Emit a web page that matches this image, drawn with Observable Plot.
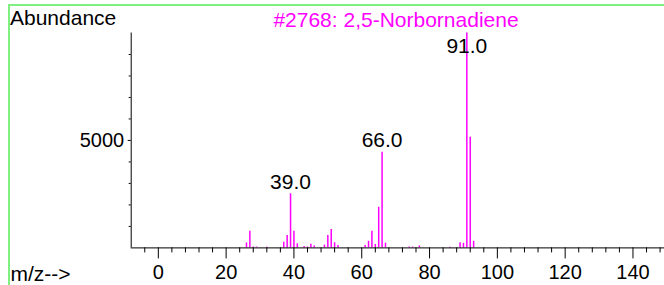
<!DOCTYPE html>
<html>
<head>
<meta charset="utf-8">
<script src="https://cdn.jsdelivr.net/npm/d3@7"></script>
<script src="https://cdn.jsdelivr.net/npm/@observablehq/plot@0.6"></script>
<style>
  html, body { margin: 0; padding: 0; background: #fff; }
  #chart { width: 664px; height: 285px; position: relative; overflow: hidden; }
  svg { display: block; }
</style>
</head>
<body>
<div id="chart"></div>
<script>
// m/z values and their abundances
const mz = [26, 27, 28, 29, 32, 37, 38, 39, 40, 41, 43, 44, 45, 46, 49, 50, 51, 52, 53,
            61, 62, 63, 64, 65, 66, 67, 74, 75, 77, 86, 89, 90, 91, 92, 93];
const abundance = [230, 770, 40, 40, 30, 260, 580, 2520, 770, 190, 60, 40, 170, 90, 130, 580, 860, 240, 110,
                   115, 310, 780, 160, 1890, 4450, 220, 40, 40, 90, 30, 235, 210, 10000, 5150, 310];
const labeledPeaks = [39, 66, 91];
const xTickLabels = [0, 20, 40, 60, 80, 100, 120, 140];
const xMinorTicks = [-4, 4, 8, 12, 16, 24, 28, 32, 36, 44, 48, 52, 56, 64, 68, 72, 76, 84, 88, 92, 96,
                     104, 108, 112, 116, 124, 128, 132, 136, 144, 148];
const yMinorTicks = [1000, 2000, 3000, 4000, 6000, 7000, 8000, 9000];
const yLabelTicks = [5000];
const titleText = "#2768: 2,5-Norbornadiene";
const yAxisTitle = "Abundance";
const xAxisTitle = "m/z-->";

const data = mz.map((m, i) => ({mz: m, abundance: abundance[i]}));
const labeled = data.filter(d => labeledPeaks.includes(d.mz));
const labelCap = 8850; // labels of peaks that reach the top are kept inside the frame

const magenta = "#ff00ff";
const font = "'Liberation Sans', Arial, Helvetica, sans-serif";

const svg = Plot.plot({
  width: 664,
  height: 285,
  marginLeft: 130.7,
  marginRight: 0,
  marginTop: 32.5,
  marginBottom: 37.6,
  x: {domain: [-8, 149.3]},
  y: {domain: [0, 10000]},
  style: {fontFamily: font, background: "transparent", color: "black"},
  marks: [
    Plot.ruleX(data, {x: "mz", y1: 0, y2: "abundance", stroke: magenta, strokeWidth: 1.5}),
    Plot.ruleY([0], {stroke: "black", strokeWidth: 1}),
    Plot.ruleX([-8], {stroke: "black", strokeWidth: 1}),
    Plot.axisX({ticks: xMinorTicks, tickSize: 5, tickFormat: () => "", label: null}),
    Plot.axisX({ticks: xTickLabels, tickSize: 11, tickPadding: 6, fontSize: 20, label: null}),
    Plot.axisY({ticks: yMinorTicks, tickSize: 2, tickFormat: () => "", label: null}),
    Plot.axisY({ticks: yLabelTicks, tickSize: 3, tickPadding: 4, fontSize: 20, tickFormat: d => String(d), label: null}),
    Plot.text(labeled, {
      x: "mz",
      y: d => Math.min(d.abundance, labelCap),
      text: d => d.mz.toFixed(1),
      dy: -5,
      lineAnchor: "bottom",
      fontSize: 21,
      fill: "black"
    })
  ]
});

const s = d3.select(svg);
// frame lines (green)
s.append("line").attr("x1", 8).attr("x2", 664).attr("y1", 5).attr("y2", 5)
  .attr("stroke", "#80f080").attr("stroke-width", 2);
s.append("line").attr("x1", 9).attr("x2", 9).attr("y1", 4).attr("y2", 285)
  .attr("stroke", "#80f080").attr("stroke-width", 2);
s.append("text").text(yAxisTitle).attr("x", 10).attr("y", 25).attr("text-anchor", "start")
  .attr("font-size", 21).attr("fill", "black").attr("font-family", font);
s.append("text").text(titleText).attr("x", 396).attr("y", 27).attr("text-anchor", "middle")
  .attr("font-size", 21).attr("fill", magenta).attr("font-family", font);
s.append("text").text(xAxisTitle).attr("x", 10.5).attr("y", 281).attr("text-anchor", "start")
  .attr("font-size", 21).attr("fill", "black").attr("font-family", font);

document.getElementById("chart").appendChild(svg);
</script>
</body>
</html>
